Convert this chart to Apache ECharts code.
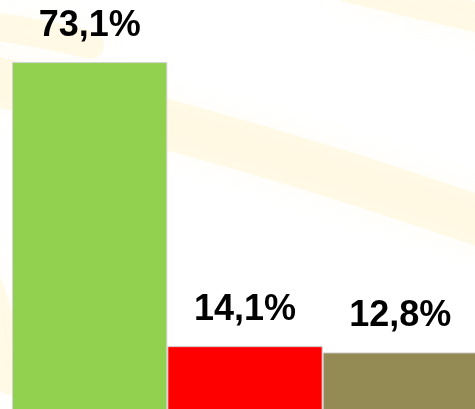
<!DOCTYPE html>
<html>
<head>
<meta charset="utf-8">
<script src="https://cdn.jsdelivr.net/npm/echarts@6/dist/echarts.min.js"></script>
<style>
  html, body { margin: 0; padding: 0; background: #fff; }
  #chart { width: 475px; height: 409px; }
</style>
</head>
<body>
<div id="chart"></div>
<script>
const categories = ['A', 'B', 'C']
const values = [73.1, 14.1, 12.8]
const colors = ['#92d050', '#ff0000', '#948a54']

const chart = echarts.init(document.getElementById('chart'))

// faint yellow swirl in the background
const band = 'rgba(255, 232, 150, 0.2)'
const swirl = [
  { x1: -10, y1: 80, cpx1: 250, cpy1: 140, x2: 500, y2: 228, w: 50 },
  { x1: -20, y1: 25, cpx1: 30, cpy1: 30, x2: 90, y2: 45, w: 28 },
  { x1: 350, y1: -12, cpx1: 420, cpy1: 5, x2: 500, y2: 22, w: 30 },
  { x1: -30, y1: 250, cpx1: 0, cpy1: 300, x2: 10, y2: 380, w: 30 }
].map(s => ({
  type: 'bezierCurve',
  z: -10,
  silent: true,
  shape: { x1: s.x1, y1: s.y1, cpx1: s.cpx1, cpy1: s.cpy1, x2: s.x2, y2: s.y2 },
  style: { stroke: band, fill: null, lineWidth: s.w, lineCap: 'round', shadowBlur: 30, shadowColor: 'rgba(255, 225, 130, 0.35)' }
}))

const option = {
  animation: false,
  backgroundColor: '#fff',
  graphic: swirl,
  grid: { left: 12, right: -3, top: 0, bottom: -5, outerBoundsMode: 'none', containLabel: false },
  xAxis: {
    type: 'category',
    data: categories,
    show: false
  },
  yAxis: {
    type: 'value',
    min: 0,
    max: 86,
    show: false
  },
  series: [{
    type: 'bar',
    data: values,
    colorBy: 'data',
    color: colors,
    barCategoryGap: 0,
    itemStyle: { borderColor: '#d4d4d4', borderWidth: 1 },
    label: {
      show: true,
      position: 'top',
      distance: 18,
      color: '#000',
      fontFamily: 'Liberation Sans, Arial, sans-serif',
      fontWeight: 'bold',
      fontSize: 36,
      formatter: p => p.value.toFixed(1).replace('.', ',') + '%'
    }
  }]
}
chart.setOption(option)
</script>
</body>
</html>
